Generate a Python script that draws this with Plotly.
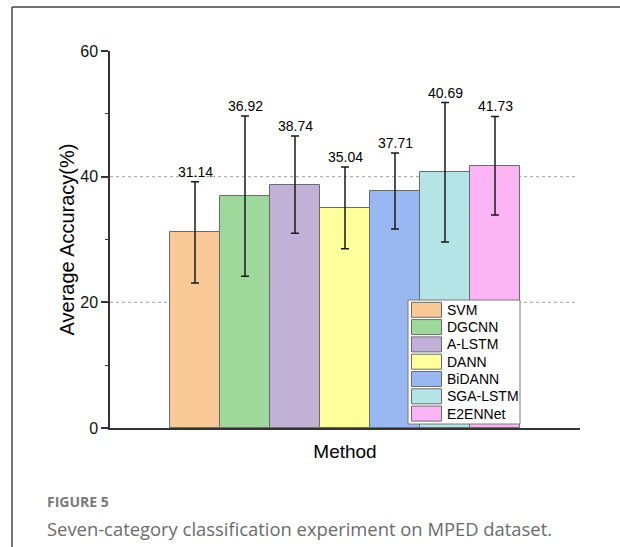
import plotly.graph_objects as go

methods = ["SVM", "DGCNN", "A-LSTM", "DANN", "BiDANN", "SGA-LSTM", "E2ENNet"]
accuracy = [31.14, 36.92, 38.74, 35.04, 37.71, 40.69, 41.73]
std_dev = [8.05, 12.75, 7.75, 6.5, 6.05, 11.1, 7.85]
colors = ["#F9C897", "#9FD89B", "#C2B1D6", "#FFFF9E", "#99B7F0", "#B5E4E6", "#FBB5F5"]
y_ticks = [0, 20, 40, 60]

W, H = 620, 547
L, R, T, B = 110, 40, 51, 119
PW, PH = W - L - R, H - T - B


def px(x):
    return (x - L) / PW


def py(y):
    return (H - B - y) / PH


FONT = "Liberation Sans"

fig = go.Figure()
for i, (m, v, e, c) in enumerate(zip(methods, accuracy, std_dev, colors)):
    fig.add_trace(go.Bar(
        x=[i], y=[v], width=1.0, name=m,
        marker=dict(color=c, line=dict(color="#6b6b6b", width=1)),
        error_y=dict(type="data", array=[e], color="#1a1a1a", thickness=1.5, width=4),
        showlegend=False,
    ))
    fig.add_annotation(x=i, y=v + e, text=f"{v:.2f}", showarrow=False,
                       yanchor="bottom", yshift=0,
                       font=dict(family=FONT, size=14, color="#000"))

shapes = []
# dotted gridlines
for g in [20, 40]:
    shapes.append(dict(type="line", xref="paper", yref="y", x0=0, x1=px(578), y0=g, y1=g,
                       line=dict(color="#a0a0a0", width=1, dash="dot"), layer="below"))
# frame border
shapes.append(dict(type="line", xref="paper", yref="paper", x0=px(12), x1=px(12), y0=py(H + 5), y1=py(7),
                   line=dict(color="#444", width=1.5)))
shapes.append(dict(type="line", xref="paper", yref="paper", x0=px(12), x1=px(W + 5), y0=py(7), y1=py(7),
                   line=dict(color="#444", width=1.5)))

# custom legend
lx0, lx1, ly0, ly1 = 408, 520, 300, 424
shapes.append(dict(type="rect", xref="paper", yref="paper", x0=px(lx0), x1=px(lx1), y0=py(ly1), y1=py(ly0),
                   line=dict(color="#7a7a7a", width=1), fillcolor="white", layer="above"))
for i, (m, c) in enumerate(zip(methods, colors)):
    top = 302.3 + 17.3 * i
    shapes.append(dict(type="rect", xref="paper", yref="paper", x0=px(411.5), x1=px(441.5),
                       y0=py(top + 15), y1=py(top), line=dict(color="#6b6b6b", width=1),
                       fillcolor=c, layer="above"))
    fig.add_annotation(xref="paper", yref="paper", x=px(445), y=py(top + 7.5), text=m,
                       showarrow=False, xanchor="left", yanchor="middle",
                       font=dict(family=FONT, size=14, color="#000"))

# caption
fig.add_annotation(xref="paper", yref="paper", x=px(45), y=py(501), text="<b>FIGURE 5</b>",
                   showarrow=False, xanchor="left", yanchor="middle",
                   font=dict(family="Open Sans", size=14, color="#7a7a7a"))
fig.add_annotation(xref="paper", yref="paper", x=px(45), y=py(528),
                   text="Seven-category classification experiment on MPED dataset.",
                   showarrow=False, xanchor="left", yanchor="middle",
                   font=dict(family="Open Sans", size=18.4, color="#6b6b6b"))

fig.update_layout(
    width=W, height=H, margin=dict(l=L, r=R, t=T, b=B),
    paper_bgcolor="white", plot_bgcolor="white",
    barmode="overlay", bargap=0, showlegend=False,
    shapes=shapes,
    font=dict(family=FONT, color="#000"),
    xaxis=dict(range=[-1.7, 7.7], showline=True, linecolor="#333", linewidth=1.5,
               showticklabels=False, ticks="", showgrid=False, zeroline=False,
               title=dict(text="Method", font=dict(family=FONT, size=19, color="#000"), standoff=16)),
    yaxis=dict(range=[0, 60], showline=True, linecolor="#333", linewidth=1.5,
               tickvals=y_ticks, ticks="outside", ticklen=7, tickwidth=1.5, tickcolor="#333",
               tickfont=dict(family=FONT, size=16, color="#111"),
               minor=dict(ticks="outside", ticklen=3, tickwidth=1.2, tickcolor="#333", dtick=10, tick0=0),
               showgrid=False, zeroline=False,
               title=dict(text="Average Accuracy(%)", font=dict(family=FONT, size=20, color="#000"), standoff=0)),
)

fig.write_html("out.html")
